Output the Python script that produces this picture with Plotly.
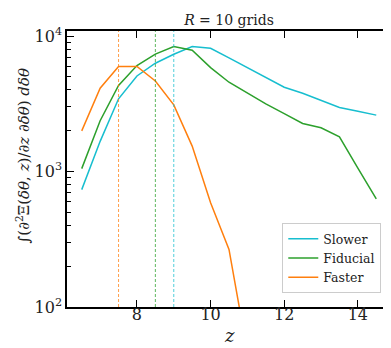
import plotly.graph_objects as go

z = [6.5, 7.0, 7.5, 8.0, 8.5, 9.0, 9.5, 10.0, 10.5, 11.0, 11.5, 12.0, 12.5, 13.0, 13.5, 14.0, 14.5]
slower = [735, 1670, 3440, 5070, 6300, 7330, 8360, 8110, 6890, 5840, 4940, 4190, 3785, 3350, 2970, 2780, 2606]
fiducial = [1050, 2370, 4315, 6050, 7360, 8360, 7850, 5850, 4560, 3785, 3155, 2673, 2264, 2103, 1803, 1061, 627]
z_faster = [6.5, 7.0, 7.5, 8.0, 8.5, 9.0, 9.5, 10.0, 10.5, 11.0]
faster = [1996, 4120, 5960, 5960, 4660, 3105, 1540, 589, 266, 46]
series_names = ["Slower", "Fiducial", "Faster"]
colors = ["#17becf", "#2ca02c", "#ff7f0e"]
vlines = [9.0, 8.5, 7.5]
yticks = [100, 1000, 10000]
yticktext = ["10<sup>2</sup>", "10<sup>3</sup>", "10<sup>4</sup>"]
yminor = [m * d for d in (100, 1000) for m in range(2, 10)]
xticks = [8, 10, 12, 14]

FONT = "DejaVu Serif"
TXT = "#222222"

fig = go.Figure()
for name, xs, ys, c in zip(series_names, [z, z, z_faster], [slower, fiducial, faster], colors):
    fig.add_trace(go.Scatter(x=xs, y=ys, mode="lines", name=name,
                             line=dict(color=c, width=1.5)))

for v, c in zip(vlines, colors):
    fig.add_shape(type="line", xref="x", yref="paper", x0=v, x1=v, y0=0, y1=1,
                  line=dict(color=c, width=1, dash="3px,2px"), opacity=0.75, layer="above")

axis_common = dict(showgrid=False, zeroline=False, showline=True, linecolor="black",
                   linewidth=1.5, mirror="allticks", ticks="inside", tickcolor="black",
                   tickwidth=1, tickfont=dict(family=FONT, size=16, color=TXT))

fig.update_layout(
    width=391, height=348,
    margin=dict(l=59, r=6, t=23, b=48.5),
    paper_bgcolor="white", plot_bgcolor="white",
    font=dict(family=FONT, color=TXT),
    title=dict(text="<i>R</i> = 10 grids", x=0.5, xref="paper", xanchor="center",
               y=1 - 12.5 / 348, yanchor="middle", font=dict(family=FONT, size=14, color=TXT)),
    xaxis=dict(range=[6.1, 14.9], tickmode="array", tickvals=xticks, ticklen=7,
               ticklabelstandoff=-8, **axis_common),
    yaxis=dict(type="log", range=[2, 4.037], tickmode="array", tickvals=yticks,
               ticktext=yticktext, ticklen=7,
               minor=dict(tickmode="array", tickvals=yminor, ticks="inside", ticklen=4,
                          tickcolor="black", tickwidth=1, showgrid=False),
               **axis_common),
    legend=dict(x=0.97, y=0.05, xanchor="right", yanchor="bottom",
                bgcolor="white", bordercolor="#cccccc", borderwidth=1,
                font=dict(family=FONT, size=12.5, color=TXT)),
    showlegend=True,
)

fig.add_annotation(text="<i>z</i>", xref="paper", yref="paper", x=0.5, y=-(328 - 299.5) / 276.5,
                   showarrow=False, font=dict(family=FONT, size=18, color=TXT),
                   xanchor="center", yanchor="middle")
fig.add_annotation(text="∫(∂<sup>2</sup>Ξ(<i>δθ</i>, <i>z</i>)/∂<i>z</i> ∂<i>δθ</i>) <i>dδθ</i>",
                   xref="paper", yref="paper", x=-(59 - 15) / 326, y=0.55, textangle=-90,
                   showarrow=False, font=dict(family=FONT, size=15, color=TXT),
                   xanchor="center", yanchor="middle")

fig.write_html("out.html")
